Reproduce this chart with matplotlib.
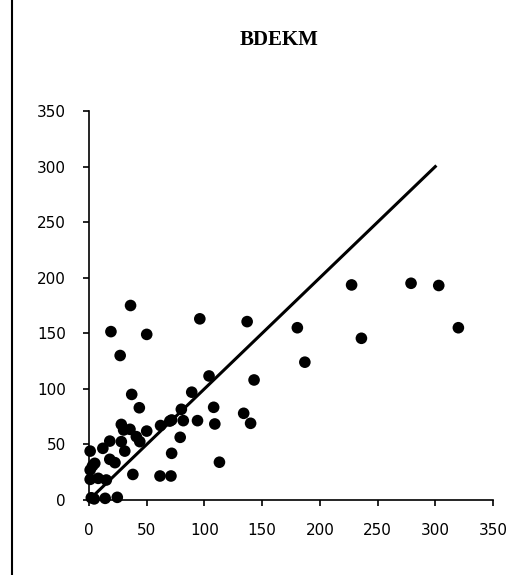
import matplotlib
matplotlib.use("Agg")
import matplotlib.pyplot as plt
from matplotlib import font_manager
from matplotlib.lines import Line2D

# scatter values
x_vals = [36, 96, 137, 19, 50, 27, 104, 89, 37, 43.6, 108, 134, 140, 109, 94, 81.7,
          80, 71.6, 62, 79, 71.6, 113, 61.5, 71, 38, 50, 28, 35.5, 30, 41, 44, 28,
          31, 18, 12, 1, 3, 1, 18, 22.5, 1, 8, 15, 2, 4.5, 14, 24.5,
          227.5, 279, 303, 180.5, 320, 236, 187, 143, 5, 70]
y_vals = [175, 163, 160.5, 151.5, 149, 130, 111.6, 97, 95, 83, 83.4, 78, 69, 68.4, 71.4, 71.4,
          81.6, 72, 67, 56.4, 42, 34, 21.6, 21.6, 23, 62, 68, 63.6, 63, 57, 52.5, 52.5,
          44, 53, 46.5, 44, 30.6, 27, 36.6, 33.6, 18.6, 19.5, 18, 2, 1, 1.5, 2.4,
          193.5, 195, 193, 155, 155, 145.5, 124, 108, 33, 71]

# 1:1 line
line_x = [5, 300]
line_y = [5, 300]

ticks = [0, 50, 100, 150, 200, 250, 300, 350]

names = {f.name for f in font_manager.fontManager.ttflist}
tick_font = "Liberation Sans Narrow" if "Liberation Sans Narrow" in names else "DejaVu Sans"

fig = plt.figure(figsize=(5.28, 5.75), dpi=100)
ax = fig.add_axes([89 / 528, 75 / 575, 404 / 528, 389 / 575])

ax.plot(line_x, line_y, color="black", lw=2.2, zorder=2)
ax.scatter(x_vals, y_vals, s=70, color="black", edgecolors="none", zorder=3, clip_on=False)

ax.set_xlim(0, 350)
ax.set_ylim(0, 350)
ax.set_xticks(ticks)
ax.set_yticks(ticks)
for spine in ["top", "right"]:
    ax.spines[spine].set_visible(False)
for spine in ["left", "bottom"]:
    ax.spines[spine].set_linewidth(1.2)
ax.tick_params(direction="out", length=4.5, width=1.2, pad=12)
for lab in ax.get_xticklabels() + ax.get_yticklabels():
    lab.set_fontfamily(tick_font)
    lab.set_fontsize(11)

fig.text(279 / 528, 1 - 40 / 575, "BDEKM", ha="center", va="center",
         fontsize=15, fontweight="bold", family="Liberation Serif")

# border line on the left side of the figure
fig.add_artist(Line2D([12 / 528, 12 / 528], [0, 1], color="black", lw=1.5,
                      transform=fig.transFigure))

fig.savefig("out.png", dpi=100)
